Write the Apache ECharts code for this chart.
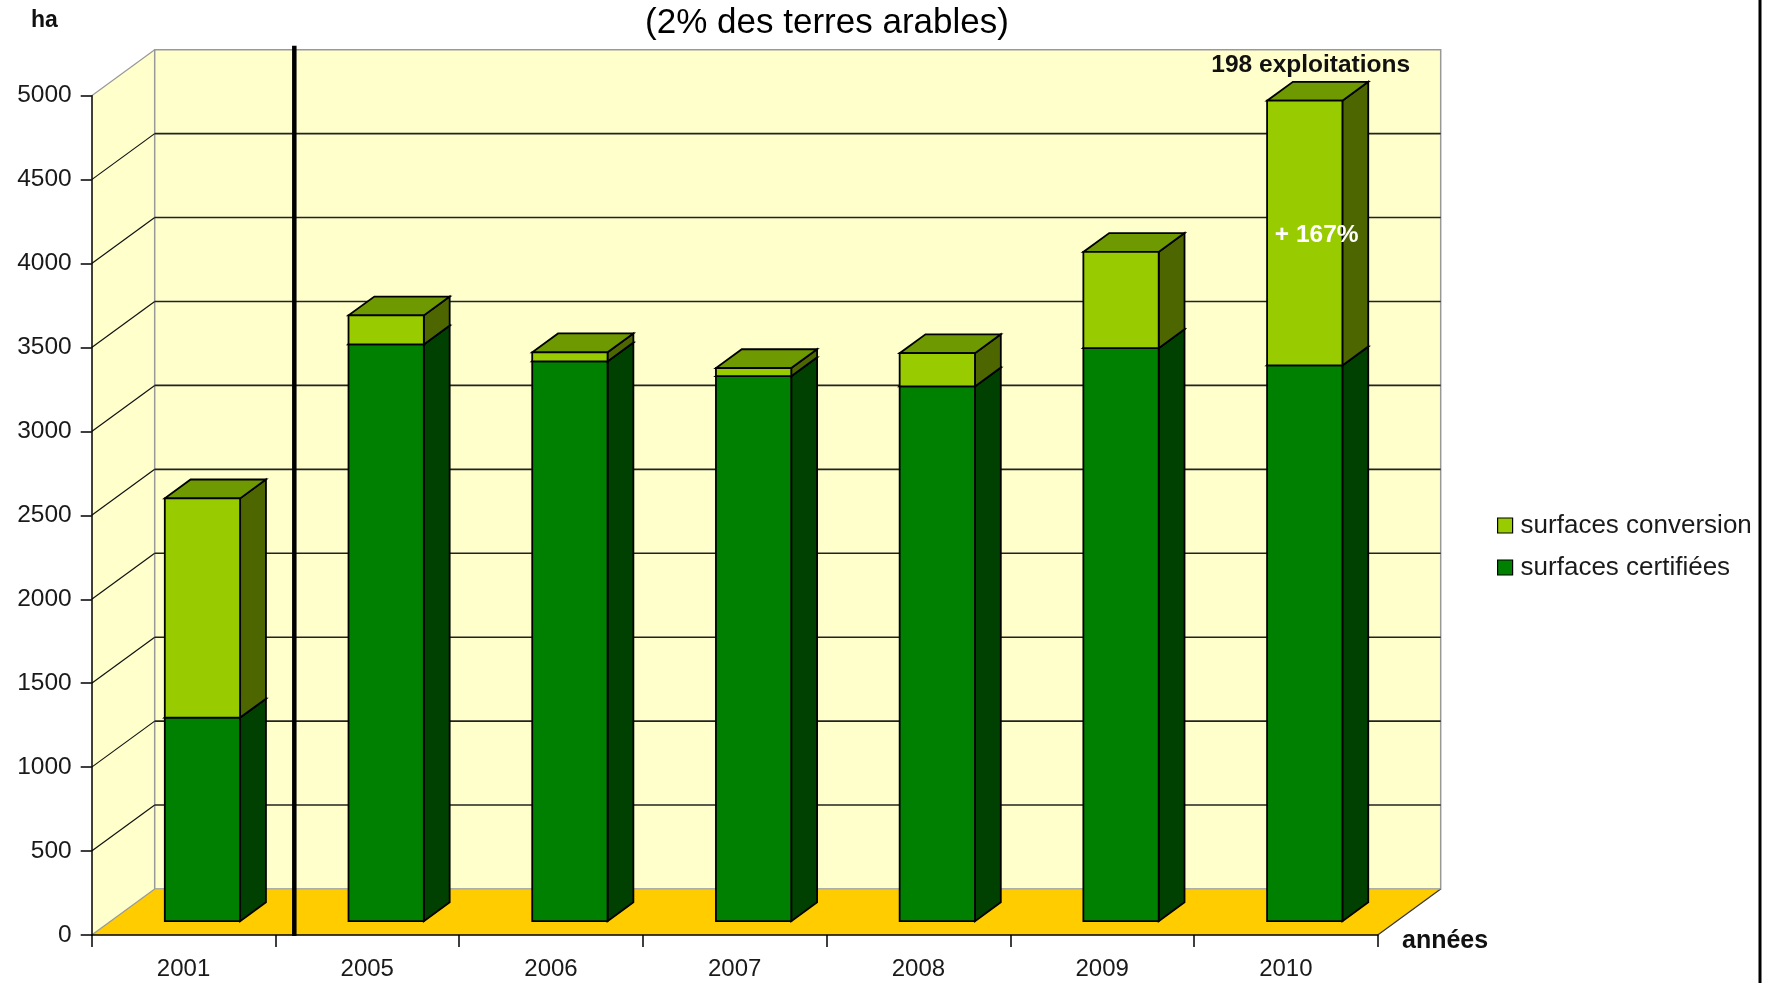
<!DOCTYPE html>
<html>
<head>
<meta charset="utf-8">
<script src="https://cdn.jsdelivr.net/npm/echarts@6/dist/echarts.min.js"></script>
<style>
html,body{margin:0;padding:0;background:#fff;}
#chart{width:1769px;height:983px;}
</style>
</head>
<body>
<div id="chart"></div>
<script>
// ---- data ----
const categories = ['2001', '2005', '2006', '2007', '2008', '2009', '2010'];
const certified  = [1213, 3436, 3335, 3247, 3186, 3414, 3311];
const conversion = [1306, 173, 54, 48, 198, 573, 1577];
const yTicks = [0, 500, 1000, 1500, 2000, 2500, 3000, 3500, 4000, 4500, 5000];
const seriesNames = ['surfaces conversion', 'surfaces certifiées'];
const annotations = [
  { cat: 6, value: 5100, text: '198 exploitations', color: '#111', dx: 6 },
  { cat: 6, value: 4084, text: '+ 167%', color: '#ffffff', dx: 12 }
];

// ---- 3D styling constants (pixels / fractions) ----
const DX = 63, DY = -46;        // depth of the box
const ZF = 0.30, ZB = 0.71;     // bar front / back depth fraction
const BAR_FRAC = 0.41;          // bar width as share of band
const FONT = "'Liberation Sans', Arial, sans-serif";

const yMin = yTicks[0], yMax = yTicks[yTicks.length - 1];
const nCat = categories.length;

function edges(api) {
  const band = api.size([1, 0])[0];
  const xl = api.coord([0, yMin])[0] - band / 2;
  const xr = api.coord([nCat - 1, yMin])[0] + band / 2;
  return { band, xl, xr };
}

function wallsItem(params, api) {
  const { xl, xr } = edges(api);
  const y0 = api.coord([0, yMin])[1];
  const y1 = api.coord([0, yMax])[1];
  return {
    type: 'group',
    children: [
      { type: 'polygon', shape: { points: [[xl, y0], [xl, y1], [xl + DX, y1 + DY], [xl + DX, y0 + DY]] },
        style: { fill: '#FFFFCC', stroke: null } },
      { type: 'rect', shape: { x: xl + DX, y: y1 + DY, width: xr - xl, height: y0 - y1 },
        style: { fill: '#FFFFCC', stroke: '#999999', lineWidth: 1.5 } },
      { type: 'polygon', shape: { points: [[xl, y0], [xr, y0], [xr + DX, y0 + DY], [xl + DX, y0 + DY]] },
        style: { fill: '#FFCC00', stroke: null } },
      { type: 'line', shape: { x1: xr, y1: y0, x2: xr + DX, y2: y0 + DY },
        style: { stroke: '#333', lineWidth: 1.2 } },
      { type: 'line', shape: { x1: xl + DX, y1: y0 + DY, x2: xr + DX, y2: y0 + DY },
        style: { stroke: '#aaaaaa', lineWidth: 1.2 } }
    ]
  };
}

function gridItem(params, api) {
  const v = api.value(1);
  const { xl, xr } = edges(api);
  const y = api.coord([0, v])[1];
  const edge = (v === yMin || v === yMax);
  const children = [
    { type: 'line', shape: { x1: xl, y1: y, x2: xl + DX, y2: y + DY },
      style: { stroke: edge ? '#999999' : '#111', lineWidth: 1.2 } }
  ];
  if (!edge) {
    children.push({ type: 'line', shape: { x1: xl + DX, y1: y + DY, x2: xr + DX, y2: y + DY },
      style: { stroke: '#222', lineWidth: 1.6 } });
  }
  return { type: 'group', children };
}

function makeBarRenderer(front, side, top) {
  return function (params, api) {
    const i = api.value(0), lo = api.value(1), hi = api.value(2);
    const pLo = api.coord([i, lo]);
    const pHi = api.coord([i, hi]);
    const band = api.size([1, 0])[0];
    const w = band * BAR_FRAC;
    const fx = ZF * DX, fy = ZF * DY;
    const ddx = (ZB - ZF) * DX, ddy = (ZB - ZF) * DY;
    const x0 = pLo[0] - w / 2 + fx, x1 = x0 + w;
    const yB = pLo[1] + fy, yT = pHi[1] + fy;
    const st = (c) => ({ fill: c, stroke: '#000', lineWidth: 1.8, lineJoin: 'miter' });
    return {
      type: 'group',
      children: [
        { type: 'polygon', shape: { points: [[x1, yB], [x1, yT], [x1 + ddx, yT + ddy], [x1 + ddx, yB + ddy]] }, style: st(side) },
        { type: 'polygon', shape: { points: [[x0, yT], [x1, yT], [x1 + ddx, yT + ddy], [x0 + ddx, yT + ddy]] }, style: st(top) },
        { type: 'rect', shape: { x: x0, y: yT, width: w, height: yB - yT }, style: st(front) }
      ]
    };
  };
}

function separatorItem(params, api) {
  const a = api.coord([0, yMin]);
  const b = api.coord([1, yMin]);
  const x = (a[0] + b[0]) / 2 + ZF * DX;
  const yTop = api.coord([0, yMax])[1] + DY - 4;
  return { type: 'line', shape: { x1: x, y1: a[1] + 1, x2: x, y2: yTop },
    style: { stroke: '#000', lineWidth: 4.5 } };
}

function annotationItem(params, api) {
  const a = annotations[params.dataIndex];
  const p = api.coord([api.value(0), api.value(1)]);
  return { type: 'text', x: p[0] + ZF * DX + a.dx, y: p[1] + ZF * DY,
    style: { text: a.text, fill: a.color, font: 'bold 24.5px ' + FONT, align: 'center', verticalAlign: 'middle' } };
}

const chart = echarts.init(document.getElementById('chart'), null, { renderer: 'canvas' });

chart.setOption({
  animation: false,
  backgroundColor: '#ffffff',
  grid: { left: 91.7, top: 95.7, width: 1286, bottom: 48, containLabel: false },
  xAxis: {
    type: 'category', data: categories, boundaryGap: true, z: 10,
    axisLine: { show: true, lineStyle: { color: '#000', width: 1.5 } },
    axisTick: { show: true, length: 12, interval: 0, lineStyle: { color: '#000', width: 1.5 } },
    axisLabel: { margin: 22, color: '#1a1a1a', fontSize: 24, fontFamily: FONT, interval: 0 },
    splitLine: { show: false }
  },
  yAxis: {
    type: 'value', min: yMin, max: yMax, interval: 500, z: 10,
    axisLine: { show: true, lineStyle: { color: '#000', width: 1.5 } },
    axisTick: { show: true, length: 11, lineStyle: { color: '#000', width: 1.5 } },
    axisLabel: { margin: 20, color: '#1a1a1a', fontSize: 24.5, fontFamily: FONT, formatter: (v) => String(v) },
    splitLine: { show: false }
  },
  legend: {
    orient: 'vertical', left: 1492, top: 507, itemWidth: 15, itemHeight: 15, itemGap: 15,
    selectedMode: false, icon: 'rect',
    textStyle: { fontSize: 26, lineHeight: 27, color: '#1a1a1a', fontFamily: FONT, padding: [0, 0, 0, 3] },
    data: [
      { name: seriesNames[0], itemStyle: { color: '#99CC00', borderColor: '#000', borderWidth: 1.2 } },
      { name: seriesNames[1], itemStyle: { color: '#008000', borderColor: '#000', borderWidth: 1.2 } }
    ]
  },
  graphic: [
    { type: 'text', x: 827, y: 23, z: 20,
      style: { text: '(2% des terres arables)', font: '35px ' + FONT, fill: '#000', align: 'center', verticalAlign: 'middle' } },
    { type: 'text', x: 31, y: 21, z: 20,
      style: { text: 'ha', font: 'bold 23px ' + FONT, fill: '#111', align: 'left', verticalAlign: 'middle' } },
    { type: 'text', x: 1402, y: 941, z: 20,
      style: { text: 'années', font: 'bold 25px ' + FONT, fill: '#111', align: 'left', verticalAlign: 'middle' } },
    { type: 'line', z: 20, shape: { x1: 1760, y1: 0, x2: 1760, y2: 983 },
      style: { stroke: '#000', lineWidth: 3 } }
  ],
  series: [
    { type: 'custom', name: 'walls', z: 1, silent: true, renderItem: wallsItem,
      encode: { x: 0, y: 1 }, data: [[0, yMin]] },
    { type: 'custom', name: 'grid', z: 2, silent: true, renderItem: gridItem,
      encode: { x: 0, y: 1 }, data: yTicks.map(v => [0, v]) },
    { type: 'custom', name: seriesNames[1], z: 3,
      itemStyle: { color: '#008000' },
      renderItem: makeBarRenderer('#008000', '#004000', '#006600'),
      encode: { x: 0, y: [1, 2] },
      data: categories.map((c, i) => [i, 0, certified[i]]) },
    { type: 'custom', name: seriesNames[0], z: 4,
      itemStyle: { color: '#99CC00' },
      renderItem: makeBarRenderer('#99CC00', '#4D6600', '#6E9900'),
      encode: { x: 0, y: [1, 2] },
      data: categories.map((c, i) => [i, certified[i], certified[i] + conversion[i]]) },
    { type: 'custom', name: 'separator', z: 5, silent: true, renderItem: separatorItem,
      encode: { x: 0, y: 1 }, data: [[0, yMin]] },
    { type: 'custom', name: 'annotations', z: 6, silent: true, renderItem: annotationItem,
      encode: { x: 0, y: 1 }, data: annotations.map(a => [a.cat, a.value]) }
  ]
});
</script>
</body>
</html>
